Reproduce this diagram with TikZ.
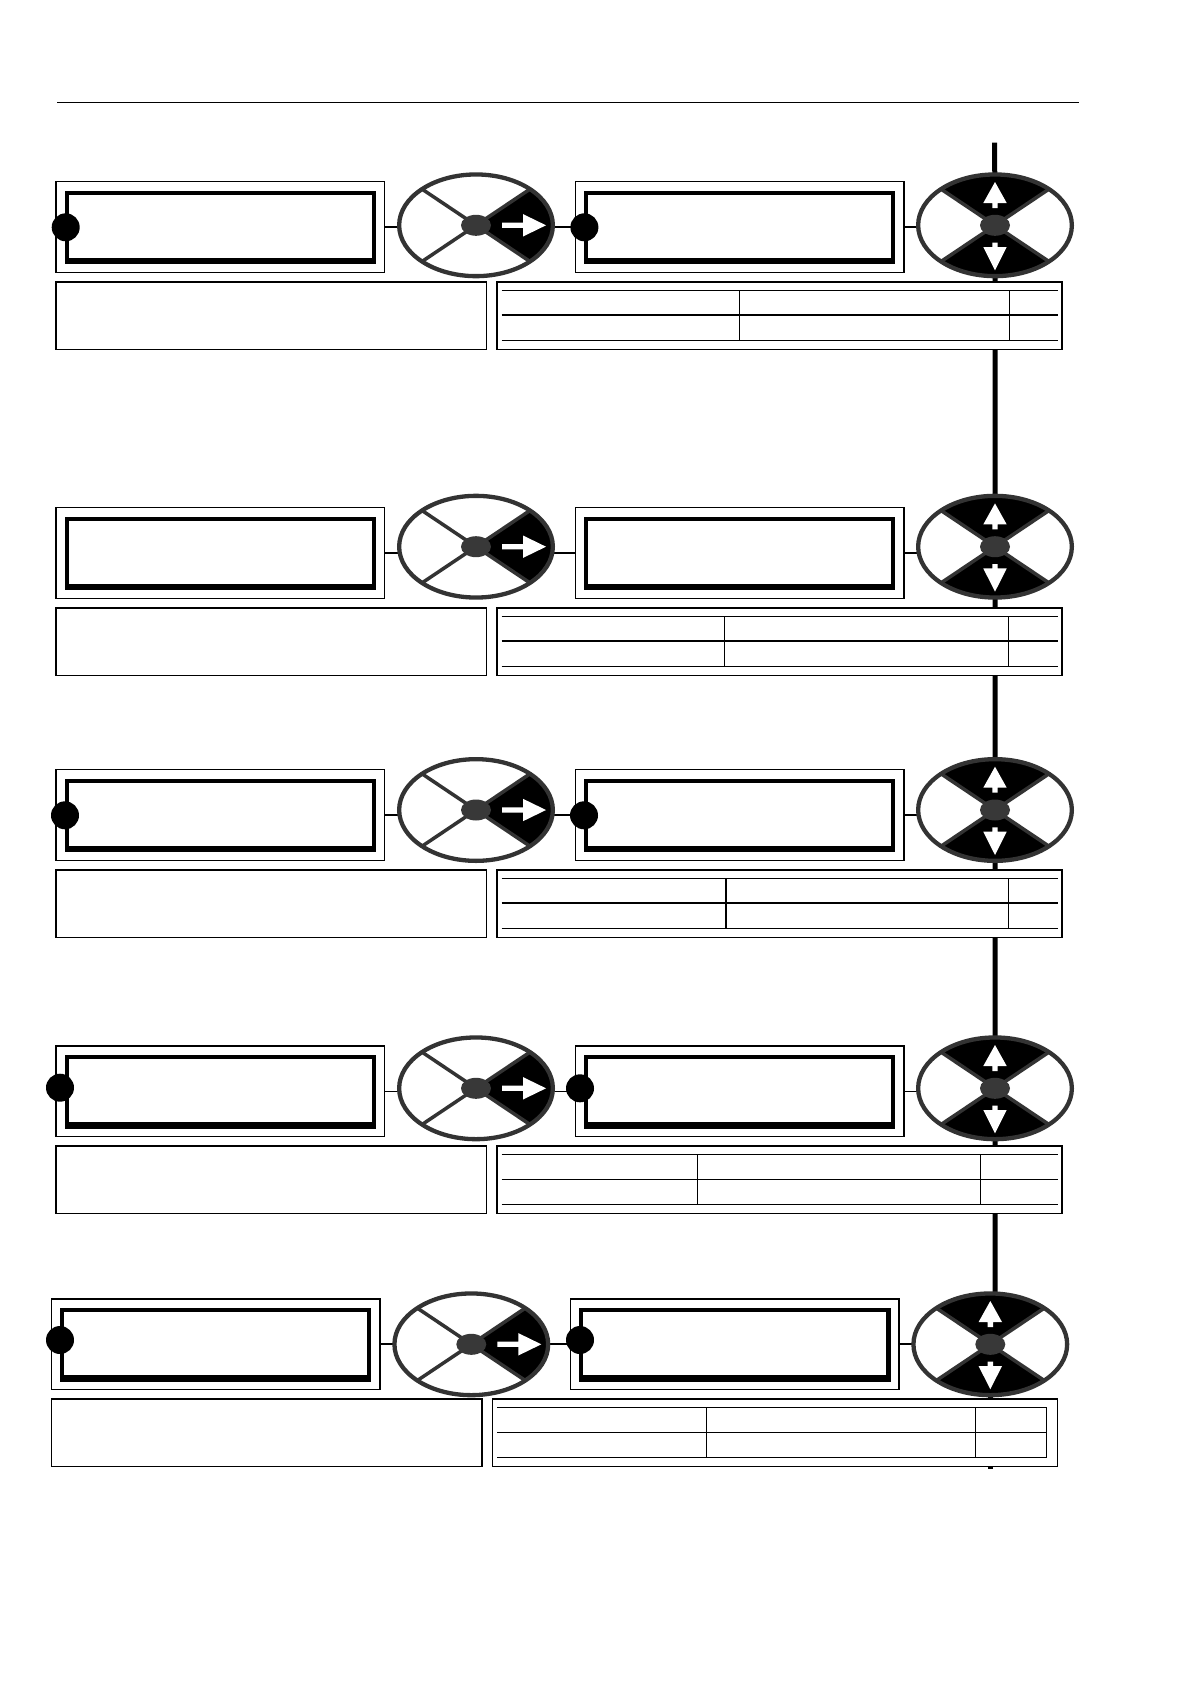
\documentclass[tikz,border=0pt]{standalone}
\usetikzlibrary{shapes.geometric,calc,backgrounds}
\definecolor{rimgray}{HTML}{333333}
\definecolor{diskgray}{HTML}{383838}
\tikzset{
  lcdo/.style={draw, line width=1.4pt, fill=white, minimum width=328.5pt, minimum height=90.6pt, inner sep=0pt, outer sep=0pt, anchor=north west},
  lcdi/.style={draw, line width=4.2pt, minimum width=307.3pt, minimum height=69.6pt, inner sep=0pt, outer sep=0pt, anchor=north west},
  infobox/.style={draw, line width=1.6pt, fill=white, minimum width=430.5pt, minimum height=67.6pt, inner sep=0pt, outer sep=0pt, anchor=north west},
  tablebox/.style={draw, line width=1.6pt, fill=white, minimum width=565pt, minimum height=67.6pt, inner sep=0pt, outer sep=0pt, anchor=north west},
  tline/.style={line width=1.1pt},
  dot/.style={circle, fill=black, minimum size=28pt, inner sep=0pt, outer sep=0pt},
  conn/.style={line width=1.1pt},
  spine/.style={line width=5pt},
  spoke/.style={draw=rimgray, line width=3.5pt},
  keybase/.style={shape=ellipse, draw=rimgray, line width=4.3pt, fill=white, minimum width=153.7pt, minimum height=101.7pt, inner sep=0pt, outer sep=0pt},
  keyright/.style={keybase, path picture={
    \fill[black] (path picture bounding box.center) -- ++(150,100.6) -- ++(0,-201.2) -- cycle;
    \draw[spoke] (path picture bounding box.center) ++(-150,-100.6) -- ++(300,201.2);
    \draw[spoke] (path picture bounding box.center) ++(-150,100.6) -- ++(300,-201.2);
    \fill[white] (path picture bounding box.center) ++(26,-2.6) -- ++(21,0) -- ++(0,-8.6) -- ++(23,11.2) -- ++(-23,11.2) -- ++(0,-8.6) -- ++(-21,0) -- cycle;
    \fill[diskgray] (path picture bounding box.center) ellipse [x radius=15, y radius=10.5];
  }},
  keyupdown/.style={keybase, path picture={
    \fill[black] (path picture bounding box.center) -- ++(-150,-100.6) -- ++(300,0) -- cycle;
    \fill[black] (path picture bounding box.center) -- ++(-150,100.6) -- ++(300,0) -- cycle;
    \draw[spoke] (path picture bounding box.center) ++(-150,-100.6) -- ++(300,201.2);
    \draw[spoke] (path picture bounding box.center) ++(-150,100.6) -- ++(300,-201.2);
    \fill[white] (path picture bounding box.center) ++(-2.7,-17.3) -- ++(0,-5) -- ++(-9,0) -- ++(11.7,-21) -- ++(11.7,21) -- ++(-9,0) -- ++(0,5) -- cycle;
    \fill[white] (path picture bounding box.center) ++(-2.7,17.3) -- ++(0,4.4) -- ++(-9,0) -- ++(11.7,23.3) -- ++(11.7,-23.3) -- ++(-9,0) -- ++(0,-4.4) -- cycle;
    \fill[diskgray] (path picture bounding box.center) ellipse [x radius=15, y radius=10.5];
  }},
}
\begin{document}
\begin{tikzpicture}[x=1pt,y=-1pt]
\useasboundingbox (0,0) rectangle (1190,1684);
% top rule
\draw[line width=1pt] (57,102) -- (1079.4,102);
\coordinate (spinetop) at (994.6,142.7);
\coordinate (spinebot) at (990.3,1469);
\foreach \r/\T/\dx/\ec/\va/\vb/\cw/\ie in {
  1/181.7/0/43.6/739.4/1009.4/1.1/1058,
  2/507.7/0/39/724.3/1008.3/1.1/1058,
  3/769.7/0/40.3/726/1008.5/1.1/1058,
  4/1046/0/42.3/697.3/980.7/1.1/1058,
  5/1299/-4.7/45.3/706.3/975.7/1.9/1046.7}
{
  % display blocks
  \node[lcdo] (lcdA\r) at ({56+\dx},\T) {};
  \node[lcdi] (lcdAi\r) at ($(lcdA\r.north west)+(10.6,10.9)$) {};
  \fill ($(lcdAi\r.south west)+(-2.1,-4.6)$) rectangle ($(lcdAi\r.south east)+(2.1,2.1)$);
  \node[lcdo] (lcdB\r) at ({575.3+\dx},\T) {};
  \node[lcdi] (lcdBi\r) at ($(lcdB\r.north west)+(10.6,10.9)$) {};
  \fill ($(lcdBi\r.south west)+(-2.1,-4.6)$) rectangle ($(lcdBi\r.south east)+(2.1,2.1)$);
  % keys
  \node[keyright] (kpA\r) at ({476+\dx},{\T+\ec}) {};
  \node[keyupdown] (kpB\r) at ({995+\dx},{\T+\ec}) {};
  % info box and table
  \node[infobox] (info\r) at ({56+\dx},{\T+100}) {};
  \node[tablebox] (tab\r) at ({497+\dx},{\T+100}) {};
  \draw[tline] ({501.7+\dx},{\T+108.6}) -- ({\ie},{\T+108.6});
  \draw[tline] ({501.7+\dx},{\T+133.3}) -- ({\ie},{\T+133.3});
  \draw[tline] ({501.7+\dx},{\T+158.6}) -- ({\ie},{\T+158.6});
  \draw[tline] (\va,{\T+108.6}) -- (\va,{\T+158.6});
  \draw[tline] (\vb,{\T+108.6}) -- (\vb,{\T+158.6});
  % connectors
  \begin{scope}[on background layer]
    \draw[conn, line width=\cw pt] (lcdA\r.east) -- (lcdA\r.east -| kpA\r.center);
    \draw[conn, line width=\cw pt] (kpA\r.center |- lcdB\r.west) -- (lcdB\r.west);
    \draw[conn, line width=\cw pt] (lcdB\r.east) -- (lcdB\r.east -| kpB\r.center);
  \end{scope}
}
% inner right border of the last table
\draw[tline] (1046.7,1407.3) -- (1046.7,1458.3);
% entry dots
\foreach \n/\x/\y in {A1/65.7/227.3, B1/584.4/227.3, A3/65/815.3, B3/584/815.3,
  A4/60/1087.7, B4/580/1088.3, A5/60/1340, B5/580/1340}
  \node[dot] (dot\n) at (\x,\y) {};
% vertical spine
\begin{scope}[on background layer]
  \draw[spine] (spinetop) -- (kpB1.center) -- (kpB2.center) -- (kpB3.center) -- (kpB4.center) -- (kpB4.center |- kpB5.center) -- (kpB5.center);
  \draw[spine] (kpB5.center) -- (spinebot);
\end{scope}
\end{tikzpicture}
\end{document}
